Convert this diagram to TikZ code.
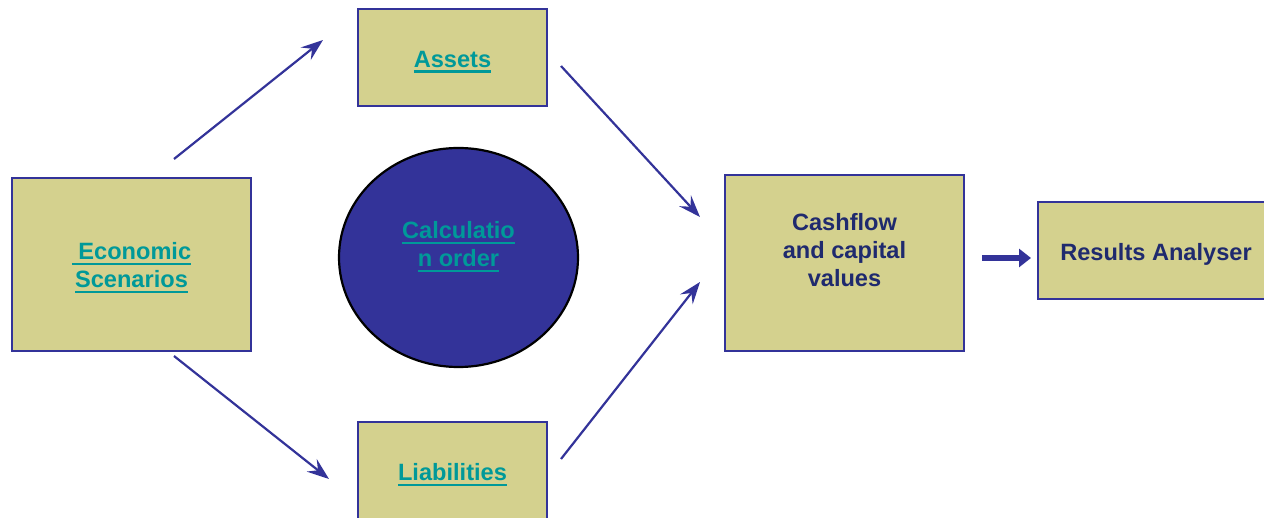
\documentclass[tikz,border=0pt]{standalone}
\usepackage{fontspec}
\setmainfont{Liberation Sans}
\usetikzlibrary{shapes.geometric,arrows.meta}
\definecolor{boxfill}{HTML}{D4D18E}
\definecolor{boxline}{HTML}{333399}
\definecolor{linktext}{HTML}{009999}
\definecolor{navytext}{HTML}{1F2A6E}
\definecolor{ovalfill}{HTML}{333399}
\newcommand\myul[1]{{\setbox0\hbox{#1}\copy0\kern-\wd0\rule[-2.6pt]{\wd0}{1.2pt}}}
\tikzset{
  box/.style={draw=boxline, fill=boxfill, line width=1.4pt, inner sep=0pt, align=center},
  txt/.style={align=center, font=\bfseries\fontsize{11.8}{14}\selectfont},
  link/.style={text=linktext},
  navy/.style={text=navytext},
  conn/.style={draw=boxline, line width=1.1pt, -{Stealth[length=11pt,width=8pt,inset=4pt]}},
  thick conn/.style={draw=boxline, line width=2.6pt, -{Triangle[length=6pt,width=9pt]}},
}
\begin{document}
\begin{tikzpicture}[x=0.5pt,y=-0.5pt]
\useasboundingbox (0,0) rectangle (1264,518);
\node[box, minimum width=119.5pt, minimum height=86.5pt] (econ) at (131.5,264.5) {};
\node[txt, link] (econtext) at (131.5,268) {\myul{\ Economic}\\\myul{Scenarios}};
\node[box, minimum width=94.5pt, minimum height=48.5pt] (assets) at (452.5,57.5) {};
\node[txt, link] (assetstext) at (452.5,62) {\myul{Assets}};
\node[box, minimum width=94.5pt, minimum height=48.5pt] (liab) at (452.5,470.5) {};
\node[txt, link] (liabtext) at (452.5,475) {\myul{Liabilities}};
\node[draw=black, line width=1.1pt, fill=ovalfill, ellipse, minimum width=119.5pt, minimum height=109.5pt, inner sep=0pt] (calc) at (458.5,257.5) {};
\node[txt, link] (calctext) at (458.5,247) {\myul{Calculatio}\\\myul{n order}};
\node[box, minimum width=119.5pt, minimum height=88pt] (cash) at (844.5,263) {};
\node[txt, navy] (cashtext) at (844.5,250) {Cashflow\\and capital\\values};
\node[box, minimum width=120pt, minimum height=48.5pt, anchor=west] (res) at (1036.5,250.5) {};
\node[txt, navy] (restext) at (1156,254.5) {Results Analyser};
\coordinate (e1) at (174,159);
\coordinate (a1) at (323,40);
\coordinate (e2) at (174,356);
\coordinate (l1) at (329,479);
\coordinate (a2) at (561,66);
\coordinate (c1) at (700,217);
\coordinate (l2) at (561,459);
\coordinate (c2) at (700,282);
\coordinate (t1) at (982,258);
\coordinate (t2) at (1031,258);
\draw[conn] (e1) -- (a1);
\draw[conn] (e2) -- (l1);
\draw[conn] (a2) -- (c1);
\draw[conn] (l2) -- (c2);
\draw[thick conn] (t1) -- (t2);
\end{tikzpicture}
\end{document}
